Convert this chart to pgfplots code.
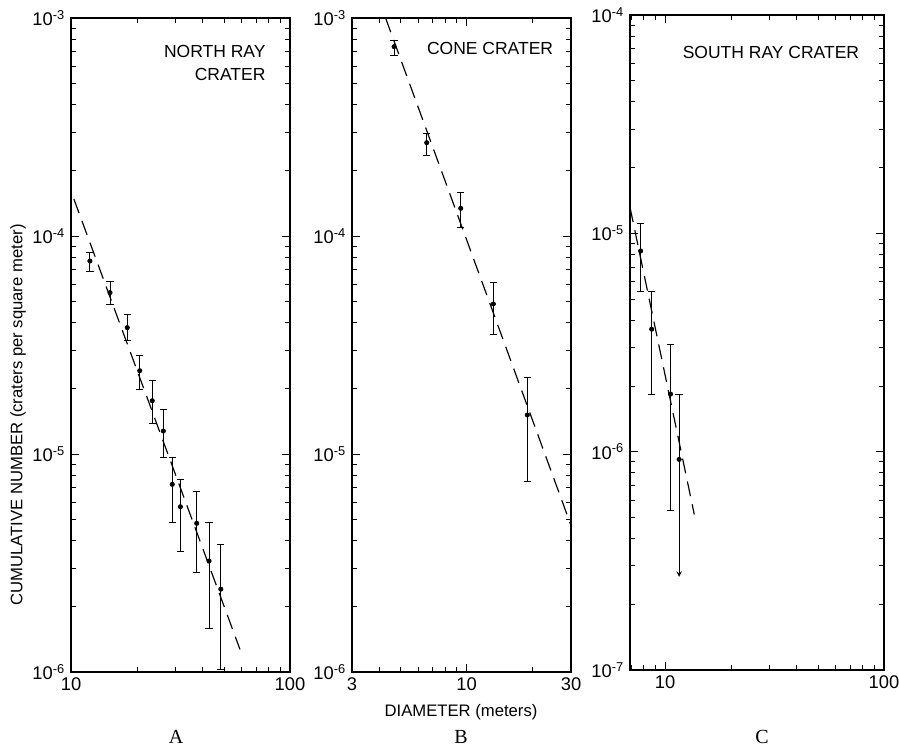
\documentclass[border=0pt]{standalone}
\usepackage{pgfplots}
\pgfplotsset{compat=1.18}
\usepackage{fontspec}
\setmainfont{Liberation Sans}
\newfontfamily\seriffont{Liberation Serif}
\begin{document}
\begin{tikzpicture}
% ---------------- Panel A ----------------
\begin{axis}[xmode=log, ymode=log, scale only axis,
  width=131.4pt, height=392.4pt,
  at={(42.6pt,45.6pt)}, anchor=south west,
  axis line style={line width=0.9pt},
  major tick length=5pt, minor tick length=3pt,
  tick style={black, line width=0.5pt},
  tick label style={font=\fontsize{11}{13}\selectfont},
  xmin=10, xmax=100, ymin=1e-6, ymax=1e-3,
  xtick={10,100}, xticklabels={10,100},
  minor xtick={20,30,40,50,60,70,80,90},
  ytick={1e-6,1e-5,1e-4,1e-3},
  yticklabels={10\textsuperscript{-6},10\textsuperscript{-5},10\textsuperscript{-4},10\textsuperscript{-3}},
  minor ytick={2e-6,3e-6,4e-6,5e-6,6e-6,7e-6,8e-6,9e-6,2e-5,3e-5,4e-5,5e-5,6e-5,7e-5,8e-5,9e-5,2e-4,3e-4,4e-4,5e-4,6e-4,7e-4,8e-4,9e-4},
]
\addplot[black, line width=0.7pt, dash pattern=on 9pt off 5pt] coordinates {(10.3,1.48e-4) (59.1,1.27e-6)};
\addplot[black, only marks, mark=*, mark size=1.3pt,
    error bars/.cd, y dir=both, y explicit,
    error bar style={line width=0.5pt},
    error mark options={line width=0.5pt, mark size=2.2pt, rotate=90}]
  table[x=x, y=y, y error plus=ep, y error minus=em] {
x     y        ep       em
12.2  7.68e-5  0.76e-5  0.77e-5
15.07 5.50e-5  0.67e-5  0.67e-5
18.07 3.80e-5  0.57e-5  0.49e-5
20.6  2.41e-5  0.41e-5  0.44e-5
23.5  1.756e-5 0.414e-5 0.376e-5
26.4  1.275e-5 0.333e-5 0.309e-5
29.0  7.26e-6  2.40e-6  2.42e-6
31.6  5.73e-6  1.93e-6  2.17e-6
37.5  4.81e-6  1.91e-6  1.94e-6
42.7  3.23e-6  1.63e-6  1.64e-6
48.3  2.40e-6  1.43e-6  1.37e-6
};
\node[anchor=north east, align=right, font=\fontsize{10.5}{14}\selectfont]
  at (rel axis cs:0.915,0.968) {NORTH RAY\\CRATER};
\end{axis}
% ---------------- Panel B ----------------
\begin{axis}[xmode=log, ymode=log, scale only axis,
  width=131.4pt, height=392.4pt,
  at={(211.2pt,45.6pt)}, anchor=south west,
  axis line style={line width=0.9pt},
  major tick length=5pt, minor tick length=3pt,
  tick style={black, line width=0.5pt},
  tick label style={font=\fontsize{11}{13}\selectfont},
  xmin=3, xmax=30, ymin=1e-6, ymax=1e-3,
  xtick={3,10,30}, xticklabels={3,10,30},
  minor xtick={4,5,6,7,8,9,20},
  ytick={1e-6,1e-5,1e-4,1e-3},
  yticklabels={10\textsuperscript{-6},10\textsuperscript{-5},10\textsuperscript{-4},10\textsuperscript{-3}},
  minor ytick={2e-6,3e-6,4e-6,5e-6,6e-6,7e-6,8e-6,9e-6,2e-5,3e-5,4e-5,5e-5,6e-5,7e-5,8e-5,9e-5,2e-4,3e-4,4e-4,5e-4,6e-4,7e-4,8e-4,9e-4},
]
\addplot[black, line width=0.7pt, dash pattern=on 9pt off 5pt] coordinates {(4.27,1e-3) (30,4.7e-6)};
\addplot[black, only marks, mark=*, mark size=1.3pt,
    error bars/.cd, y dir=both, y explicit,
    error bar style={line width=0.5pt},
    error mark options={line width=0.5pt, mark size=2.2pt, rotate=90}]
  table[x=x, y=y, y error plus=ep, y error minus=em] {
x     y        ep       em
4.67  7.39e-4  0.48e-4  0.62e-4
6.58  2.68e-4  0.28e-4  0.33e-4
9.41  1.34e-4  0.246e-4 0.24e-4
13.26 4.88e-5  1.25e-5  1.34e-5
18.95 1.51e-5  0.74e-5  0.758e-5
};
\node[anchor=north east, font=\fontsize{10.5}{14}\selectfont]
  at (rel axis cs:0.945,0.972) {CONE CRATER};
\end{axis}
% ---------------- Panel C ----------------
\begin{axis}[xmode=log, ymode=log, scale only axis,
  width=152.4pt, height=393pt,
  at={(378pt,46.8pt)}, anchor=south west,
  axis line style={line width=0.9pt},
  major tick length=5pt, minor tick length=3pt,
  tick style={black, line width=0.5pt},
  tick label style={font=\fontsize{11}{13}\selectfont},
  xmin=6.92, xmax=100, ymin=1e-7, ymax=1e-4,
  xtick={10,100}, xticklabels={10,100},
  minor xtick={7,8,9,20,30,40,50,60,70,80,90},
  ytick={1e-7,1e-6,1e-5,1e-4},
  yticklabels={10\textsuperscript{-7},10\textsuperscript{-6},10\textsuperscript{-5},10\textsuperscript{-4}},
  minor ytick={2e-7,3e-7,4e-7,5e-7,6e-7,7e-7,8e-7,9e-7,2e-6,3e-6,4e-6,5e-6,6e-6,7e-6,8e-6,9e-6,2e-5,3e-5,4e-5,5e-5,6e-5,7e-5,8e-5,9e-5},
]
\addplot[black, line width=0.7pt, dash pattern=on 9pt off 5pt] coordinates {(6.92,1.315e-5) (13.6,5.16e-7)};
\addplot[black, only marks, mark=*, mark size=1.3pt,
    error bars/.cd, y dir=both, y explicit,
    error bar style={line width=0.5pt},
    error mark options={line width=0.5pt, mark size=2.2pt, rotate=90}]
  table[x=x, y=y, y error plus=ep, y error minus=em] {
x     y        ep       em
7.74  8.3e-6   2.8e-6   2.9e-6
8.69  3.64e-6  1.78e-6  1.82e-6
10.6  1.836e-6 1.27e-6  1.30e-6
};
\addplot[black, only marks, mark=*, mark size=1.3pt,
    error bars/.cd, y dir=plus, y explicit,
    error bar style={line width=0.5pt},
    error mark options={line width=0.5pt, mark size=2.2pt, rotate=90}]
  coordinates {(11.6,9.22e-7) +- (0,0.9e-6)};
\addplot[black, line width=0.5pt, -stealth] coordinates {(11.6,9.22e-7) (11.6,2.67e-7)};
\node[anchor=north east, font=\fontsize{10.5}{14}\selectfont]
  at (rel axis cs:0.925,0.962) {SOUTH RAY CRATER};
\end{axis}
% ---------------- labels ----------------
\node[rotate=90, font=\fontsize{10}{12}\selectfont] at (10.8pt,199.8pt)
  {CUMULATIVE NUMBER (craters per square meter)};
\node[font=\fontsize{10}{12}\selectfont] at (276.6pt,21.6pt) {DIAMETER (meters)};
\node[font=\seriffont\fontsize{12}{14}\selectfont] at (105.6pt,6.6pt) {A};
\node[font=\seriffont\fontsize{12}{14}\selectfont] at (276.6pt,6.6pt) {B};
\node[font=\seriffont\fontsize{12}{14}\selectfont] at (457.2pt,6.6pt) {C};
\pgfresetboundingbox
\path (0,0) rectangle (539.4pt,448.8pt);
\end{tikzpicture}
\end{document}
